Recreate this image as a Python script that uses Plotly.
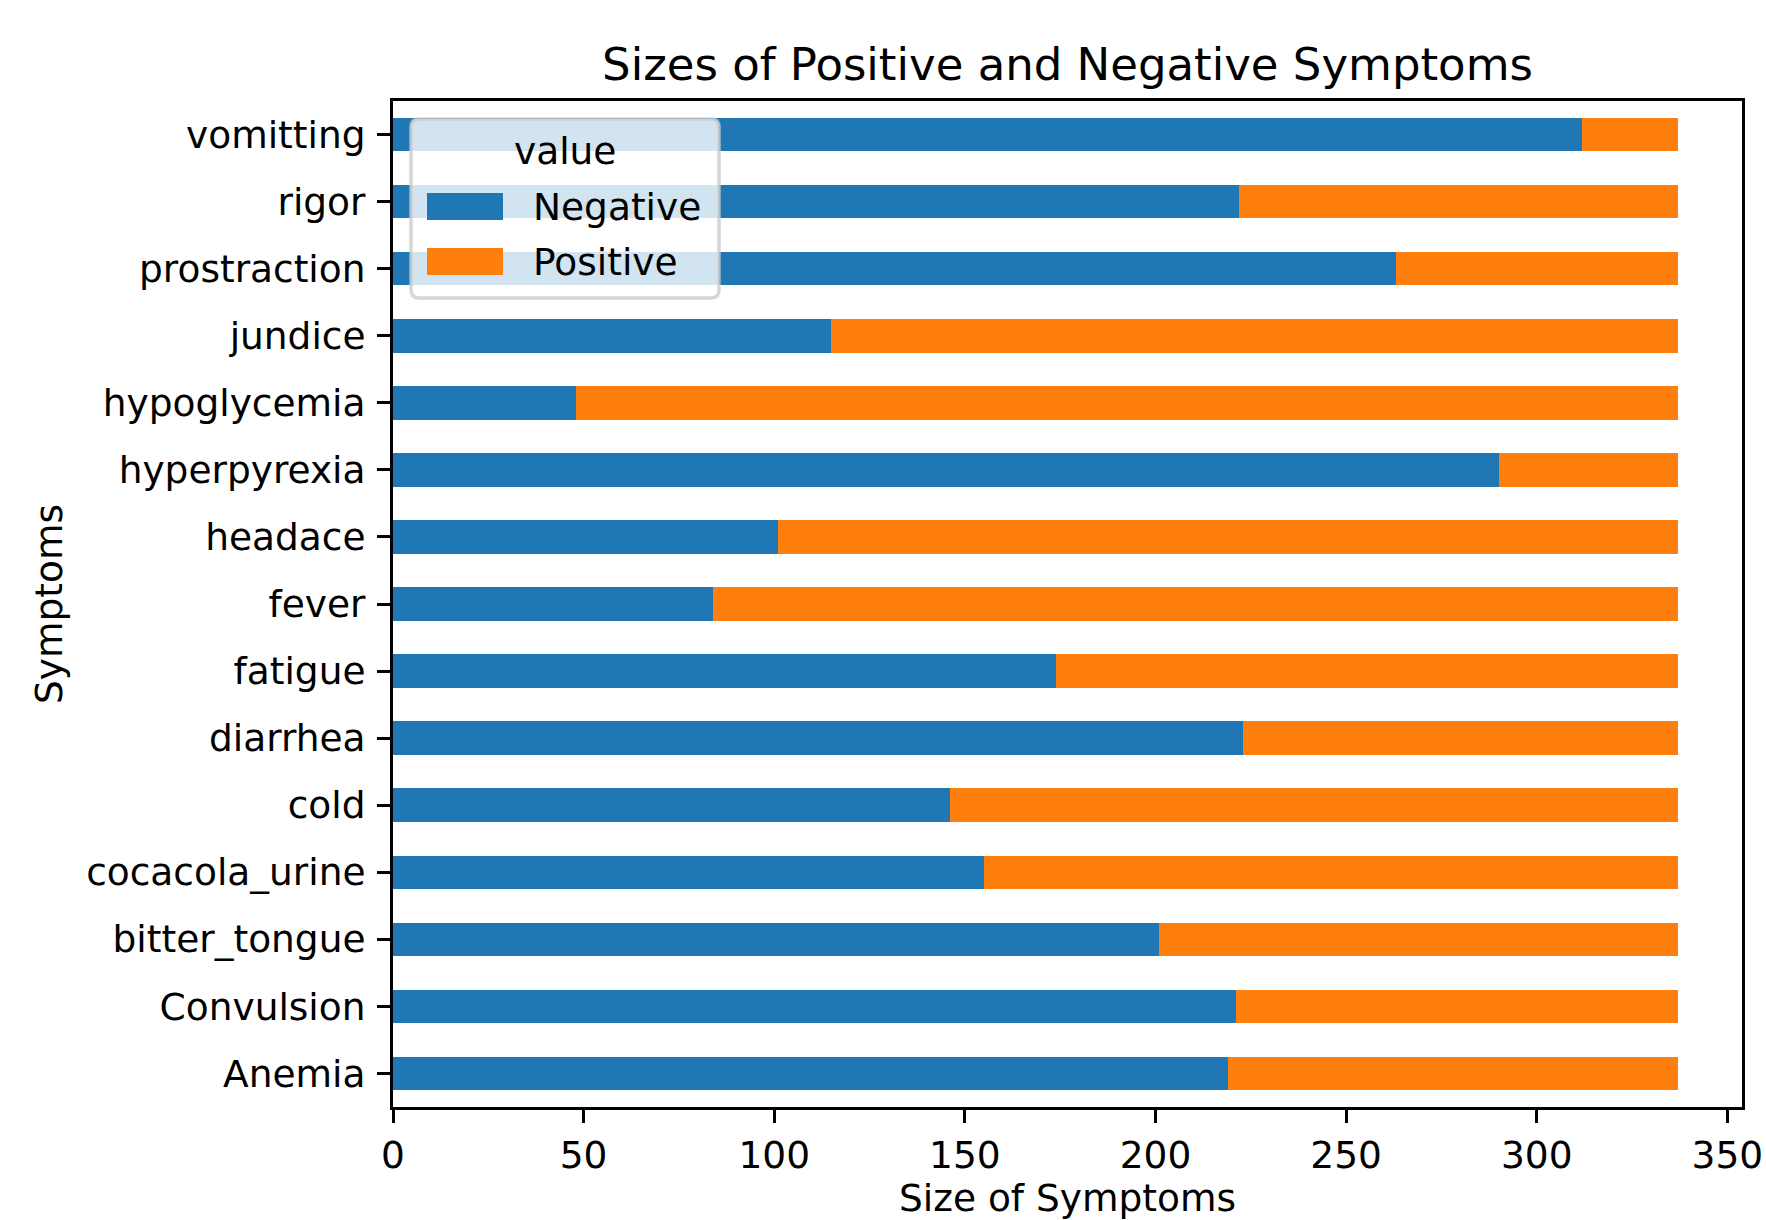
import plotly.graph_objects as go

symptoms = ["Anemia", "Convulsion", "bitter_tongue", "cocacola_urine", "cold",
            "diarrhea", "fatigue", "fever", "headace", "hyperpyrexia",
            "hypoglycemia", "jundice", "prostraction", "rigor", "vomitting"]
negative = [219, 221, 201, 155, 146, 223, 174, 84, 101, 290, 48, 115, 263, 222, 312]
positive = [118, 116, 136, 182, 191, 114, 163, 253, 236, 47, 289, 222, 74, 115, 25]
x_ticks = [0, 50, 100, 150, 200, 250, 300, 350]
series_names = ["Negative", "Positive"]
series_colors = ["#1f77b4", "#ff7f0e"]

FONT = "DejaVu Sans"
W, H = 1766, 1220
L, R, T, B = 393, 1742, 101, 1107


def px(X):
    return (X - L) / (R - L)


def py(Y):
    return (B - Y) / (B - T)


fig = go.Figure()
for name, vals, col in zip(series_names, [negative, positive], series_colors):
    fig.add_trace(go.Bar(y=symptoms, x=vals, name=name, orientation="h",
                         marker=dict(color=col, line=dict(width=0)), width=0.5,
                         showlegend=False))

# legend drawn as decoration (matplotlib-style box with rounded corners)
bx0, bx1, by0, by1, rad = 411, 719, 119, 298, 8


def rounded_path(x0, x1, y0, y1, r):
    pts = [
        f"M {px(x0 + r)},{py(y0)}",
        f"L {px(x1 - r)},{py(y0)}",
        f"Q {px(x1)},{py(y0)} {px(x1)},{py(y0 + r)}",
        f"L {px(x1)},{py(y1 - r)}",
        f"Q {px(x1)},{py(y1)} {px(x1 - r)},{py(y1)}",
        f"L {px(x0 + r)},{py(y1)}",
        f"Q {px(x0)},{py(y1)} {px(x0)},{py(y1 - r)}",
        f"L {px(x0)},{py(y0 + r)}",
        f"Q {px(x0)},{py(y0)} {px(x0 + r)},{py(y0)}",
        "Z",
    ]
    return " ".join(pts)


shapes = [dict(type="path", xref="paper", yref="paper", layer="above",
               path=rounded_path(bx0, bx1, by0, by1, rad),
               fillcolor="rgba(255,255,255,0.8)",
               line=dict(color="rgba(204,204,204,0.8)", width=3.5))]
annotations = [dict(text="value", xref="paper", yref="paper", x=px((bx0 + bx1) / 2),
                    y=py(151), xanchor="center", yanchor="middle", showarrow=False,
                    font=dict(family=FONT, size=37.5, color="black"))]
row_centers = [206.5, 261.5]
for name, col, yc in zip(series_names, series_colors, row_centers):
    shapes.append(dict(type="rect", xref="paper", yref="paper", layer="above",
                       x0=px(427), x1=px(503), y0=py(yc - 13.5), y1=py(yc + 13.5),
                       fillcolor=col, line=dict(width=0)))
    annotations.append(dict(text=name, xref="paper", yref="paper", x=px(531),
                            y=py(yc), xanchor="left", yanchor="middle",
                            showarrow=False,
                            font=dict(family=FONT, size=37.5, color="black")))

fig.update_layout(
    width=W, height=H,
    margin=dict(l=L, r=W - R, t=T, b=H - B, pad=0, autoexpand=False),
    barmode="stack",
    plot_bgcolor="white", paper_bgcolor="white",
    font=dict(family=FONT, size=37.5, color="black"),
    showlegend=False,
    title=dict(text="Sizes of Positive and Negative Symptoms", x=0.5, xref="paper",
               xanchor="center", y=1 - 64 / H, yref="container", yanchor="middle",
               font=dict(family=FONT, size=45, color="black")),
    xaxis=dict(range=[0, 353.85], tickvals=x_ticks, ticks="outside", ticklen=13,
               tickwidth=3, tickcolor="black", showline=True, linecolor="black",
               linewidth=3, mirror=True, showgrid=False, zeroline=False,
               ticklabelstandoff=0,
               title=dict(text="Size of Symptoms", standoff=27,
                          font=dict(family=FONT, size=37.5, color="black")),
               automargin=False),
    yaxis=dict(range=[-0.5, 14.5], ticks="outside", ticklen=13, tickwidth=3,
               tickcolor="black", showline=True, linecolor="black", linewidth=3,
               mirror=True, showgrid=False, zeroline=False, ticklabelstandoff=4,
               title=dict(text="Symptoms", standoff=13,
                          font=dict(family=FONT, size=37.5, color="black")),
               automargin=False),
    shapes=shapes,
    annotations=annotations,
    bargap=0,
)

fig.write_html("out.html", config={"displayModeBar": False},
               post_script="document.body.style.margin='0';")
